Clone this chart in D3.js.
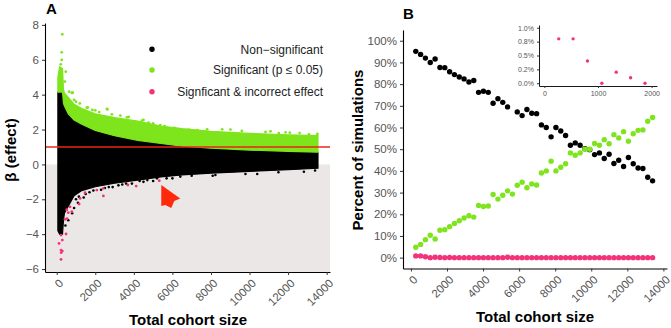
<!DOCTYPE html>
<html>
<head>
<meta charset="utf-8">
<script src="https://cdn.jsdelivr.net/npm/d3@7"></script>
<style>
  body { margin: 0; background: #fff; }
  svg { font-family: "Liberation Sans", Arial, sans-serif; }
</style>
</head>
<body>
<svg id="chart" width="671" height="328"></svg>
<script>
// ---------- Panel A data ----------
// envelope of the dense cloud, per cohort size
var envSize   = [60, 150, 300, 350, 400, 600, 900, 1300, 2000, 3000, 4200, 5400, 6500, 8000, 10000, 12000, 13550];
var blackLow  = [-3.8, -4.0, -4.0, -3.2, -2.8, -2.4, -1.8, -1.5, -1.28, -1.08, -0.9, -0.72, -0.6, -0.5, -0.4, -0.3, -0.22];
var blackHigh = [4.15, 4.15, 4.15, 3.5, 3.35, 2.9, 2.55, 2.3, 1.95, 1.65, 1.38, 1.2, 1.05, 0.93, 0.82, 0.75, 0.7];
var greenHigh = [5.0, 5.6, 5.5, 4.3, 4.1, 3.85, 3.45, 3.2, 2.9, 2.68, 2.48, 2.2, 2.05, 1.9, 1.78, 1.7, 1.65];

// scattered points outside the dense cloud [size, beta]
var greenOut = [[290,7.46],[260,6.43],[260,5.99],[210,5.74],[172,5.32],[470,5.32],[420,4.75],[640,4.17],
  [780,4.11],[830,4.11],[900,3.7],[1000,3.6],[1200,3.5],[1560,3.25],[1610,3.27],[1850,3.12],[2000,3.1],
  [2200,3.0],[2600,3.18],[2630,3.16],[2860,2.87],[3300,2.8],[3640,2.7],[3730,2.72],[4420,2.51],[4500,2.55],
  [4760,2.4],[5000,2.35],[5370,2.25],[5600,2.2],[6100,2.1],[6150,2.07],[6840,1.99],[7300,1.97],[7800,2.01],
  [8580,2.01],[9010,2.0],[9600,1.92],[10830,1.86],[11090,1.9],[11520,1.8],[11870,1.84],[12090,1.82],
  [12600,1.8],[13080,1.72],[13520,1.75]];
var blackOut = [[450,-3.5],[600,-3.2],[800,-2.8],[900,-2.5],[1000,-2.0],[1100,-2.2],[1150,-1.85],[1400,-1.9],
  [1500,-1.7],[1700,-1.6],[1900,-1.5],[2300,-1.45],[2500,-1.35],[2700,-1.3],[2900,-1.3],[3200,-1.2],
  [3400,-1.15],[3600,-1.1],[3900,-1.1],[4300,-0.95],[4500,-1.0],[4700,-0.9],[5000,-0.95],[5200,-0.8],
  [5700,-0.8],[6000,-0.8],[6410,-0.7],[7000,-0.65],[8090,-0.65],[8230,-0.61],[9790,-0.55],[10400,-0.55],
  [11500,-0.45],[12820,-0.42],[13400,-0.35]];
var pinkPts = [[224,-5.45],[224,-4.91],[230,-5.06],[291,-4.97],[120,-4.53],[290,-4.34],[224,-4.05],[483,-3.99],
  [430,-3.15],[535,-3.11],[520,-2.6],[600,-2.77],[780,-2.71],[690,-2.43],[1160,-2.27],[1210,-1.95],
  [1470,-1.62],[2080,-1.47],[2420,-1.37],[2420,-1.81],[3690,-1.18],[4120,-1.24],[5320,-0.93]];

var ticksAx = [0, 2000, 4000, 6000, 8000, 10000, 12000, 14000];
var ticksAy = [-6, -4, -2, 0, 2, 4, 6, 8];
var legendLabels = ["Non\u2212significant", "Significant (p \u2264 0.05)", "Signficant & incorrect effect"];

// ---------- Panel B data ----------
var cohort = [268, 536, 804, 1072, 1340, 1608, 1876, 2144, 2412, 2680, 2948, 3216, 3484, 3752, 4020, 4288,
  4556, 4824, 5092, 5360, 5628, 5896, 6164, 6432, 6700, 6968, 7236, 7504, 7772, 8040, 8308, 8576, 8844,
  9112, 9380, 9648, 9916, 10184, 10452, 10720, 10988, 11256, 11524, 11792, 12060, 12328, 12596, 12864,
  13132, 13400];
var pctNonSig = [95.1, 93.7, 92.0, 90.0, 91.6, 87.7, 87.6, 85.7, 84.4, 83.3, 82.4, 81.0, 81.7, 76.2, 76.7, 76.2,
  71.2, 73.3, 71.6, 69.5, null, 67.2, 65.5, 68.3, 66.6, 66.4, 61.2, 60.0, 55.7, 60.0, 58.4, 56.3, 51.8,
  52.9, 51.8, 50.2, 49.8, 47.5, 48.3, 45.7, 47.7, 43.4, 44.9, 42.0, 46.2, 43.3, 41.3, 41.1, 37.1, 35.4];
var pctSig = [4.8, 6.1, 8.3, 10.3, 8.6, 12.6, 12.9, 14.3, 15.8, 17.0, 18.3, 19.3, 18.7, 24.1, 23.6, 23.8,
  29.1, 27.0, 28.8, 30.8, 29.3, 33.4, 34.8, 32.2, 34.0, 33.5, 39.0, 40.0, 44.5, 40.0, 41.7, 43.3, 48.3,
  47.2, 48.3, 50.0, 50.0, 52.6, 51.8, 54.4, 52.5, 56.7, 55.2, 58.1, 53.7, 57.1, 58.7, 58.9, 62.9, 64.6];
var pctWrong = [0.8, 0.8, 0.4, 0, 0.2, 0.1, 0, 0.1, 0, 0, 0, 0, 0, 0, 0, 0, 0, 0, 0, 0.2, 0, 0, 0, 0, 0,
  0, 0, 0, 0, 0, 0, 0, 0, 0, 0, 0, 0, 0, 0, 0, 0, 0, 0, 0, 0, 0, 0, 0, 0, 0];

var ticksBy = [0, 10, 20, 30, 40, 50, 60, 70, 80, 90, 100];
var ticksInsetX = [0, 1000, 2000];
var ticksInsetY = [0, 0.25, 0.5, 0.75, 1.0];
var ticksInsetLabels = ["0.0%", "0.2%", "0.5%", "0.8%", "1.0%"];

// colours
var cBlack = "#000000", cGreen = "#7ee41c", cPink = "#f2337b";

var svg = d3.select("#chart");

// style helper for ggplot-classic axes
function styleAxis(g, fontSize) {
  g.select(".domain").attr("stroke", "#000").attr("stroke-width", 1.1);
  g.selectAll(".tick line").attr("stroke", "#333");
  g.selectAll(".tick text").attr("fill", "#555").style("font-size", fontSize + "px");
}
function rotateX(g) {
  g.selectAll(".tick text")
    .attr("x", 0).attr("y", 0).attr("dy", "0.35em")
    .attr("transform", "translate(4,9) rotate(-45)")
    .style("text-anchor", "end");
}

// ================= PANEL A =================
var xA = d3.scaleLinear().domain([-608, 14174]).range([45, 330]);
var yA = d3.scaleLinear().domain([-6.17, 8.11]).range([272, 23]);

// shaded region below zero
svg.append("rect")
  .attr("x", xA(-608)).attr("y", yA(0))
  .attr("width", xA(14174) - xA(-608)).attr("height", yA(-6.17) - yA(0))
  .attr("fill", "#ebe7e7");

var env = envSize.map(function(s, i) {
  return {s: s, lo: blackLow[i], hi: blackHigh[i], top: greenHigh[i]};
});

svg.append("path").datum(env)
  .attr("fill", cBlack).attr("stroke", cBlack).attr("stroke-width", 1.2)
  .attr("d", d3.area().x(function(d){ return xA(d.s); })
    .y0(function(d){ return yA(d.lo); }).y1(function(d){ return yA(d.hi); }));

svg.append("path").datum(env)
  .attr("fill", cGreen).attr("stroke", cGreen).attr("stroke-width", 1.2)
  .attr("d", d3.area().x(function(d){ return xA(d.s); })
    .y0(function(d){ return yA(d.hi); }).y1(function(d){ return yA(d.top); }));

svg.append("g").selectAll("circle").data(blackOut).enter().append("circle")
  .attr("cx", function(d){ return xA(d[0]); }).attr("cy", function(d){ return yA(d[1]); })
  .attr("r", 1.3).attr("fill", cBlack);
svg.append("g").selectAll("circle").data(greenOut).enter().append("circle")
  .attr("cx", function(d){ return xA(d[0]); }).attr("cy", function(d){ return yA(d[1]); })
  .attr("r", 1.4).attr("fill", cGreen);
svg.append("g").selectAll("circle").data(pinkPts).enter().append("circle")
  .attr("cx", function(d){ return xA(d[0]); }).attr("cy", function(d){ return yA(d[1]); })
  .attr("r", 1.4).attr("fill", cPink);

// true effect line
svg.append("line")
  .attr("x1", xA(-608)).attr("x2", xA(14174)).attr("y1", yA(1)).attr("y2", yA(1))
  .attr("stroke", "#e8261a").attr("stroke-width", 1.3);

// red arrow pointing at the pink point
var arrowTip = [5422, -1.18];
var arrowShape = [[0,0],[19,13.5],[13,16],[10,23],[4,20],[0,21]];
svg.append("path")
  .attr("d", "M" + arrowShape.map(function(p){
    return (xA(arrowTip[0]) + p[0]) + "," + (yA(arrowTip[1]) + p[1]); }).join("L") + "Z")
  .attr("fill", "#ff2a0c");

var axAy = svg.append("g").attr("transform", "translate(45,0)")
  .call(d3.axisLeft(yA).tickValues(ticksAy).tickSize(3).tickSizeOuter(0).tickFormat(d3.format("d")));
styleAxis(axAy, 11.5);
axAy.selectAll(".tick text").text(function(d){ return d < 0 ? "\u2212" + Math.abs(d) : d; });

var axAx = svg.append("g").attr("transform", "translate(0,272)")
  .call(d3.axisBottom(xA).tickValues(ticksAx).tickSize(3).tickSizeOuter(0).tickFormat(d3.format("d")));
styleAxis(axAx, 11.5);
rotateX(axAx);

// legend
var legColors = [cBlack, cGreen, cPink];
var legY = [49.3, 70, 91.7];
legendLabels.forEach(function(t, i) {
  svg.append("circle").attr("cx", 152).attr("cy", legY[i]).attr("r", 2.7).attr("fill", legColors[i]);
  svg.append("text").attr("x", 323).attr("y", legY[i]).attr("dy", "0.35em")
    .style("text-anchor", "end").style("font-size", "12px").attr("fill", "#222").text(t);
});

svg.append("text").attr("x", 188).attr("y", 325).style("text-anchor", "middle")
  .style("font-size", "15px").style("font-weight", "bold").text("Total cohort size");
svg.append("text").attr("transform", "translate(16,150) rotate(-90)").style("text-anchor", "middle")
  .style("font-size", "15px").style("font-weight", "bold").text("\u03b2 (effect)");
svg.append("text").attr("x", 46).attr("y", 14).style("font-size", "15px").style("font-weight", "bold").text("A");

// ================= PANEL B =================
var xB = d3.scaleLinear().domain([-440, 14200]).range([403, 667]);
var yB = d3.scaleLinear().domain([-5, 105]).range([268.5, 29.9]);

function pointsB(values, color) {
  var pts = cohort.map(function(c, i){ return [c, values[i]]; })
    .filter(function(d){ return d[1] !== null; });
  svg.append("g").selectAll("circle").data(pts).enter().append("circle")
    .attr("cx", function(d){ return xB(d[0]); }).attr("cy", function(d){ return yB(d[1]); })
    .attr("r", 2.7).attr("fill", color);
}
pointsB(pctNonSig, cBlack);
pointsB(pctSig, cGreen);
pointsB(pctWrong, cPink);

var axBy = svg.append("g").attr("transform", "translate(403,0)")
  .call(d3.axisLeft(yB).tickValues(ticksBy).tickSize(3).tickSizeOuter(0)
    .tickFormat(function(d){ return d + "%"; }));
styleAxis(axBy, 11.5);

var axBx = svg.append("g").attr("transform", "translate(0,268.5)")
  .call(d3.axisBottom(xB).tickValues(ticksAx).tickSize(3).tickSizeOuter(0).tickFormat(d3.format("d")));
styleAxis(axBx, 11.5);
rotateX(axBx);

svg.append("text").attr("x", 535).attr("y", 322).style("text-anchor", "middle")
  .style("font-size", "15px").style("font-weight", "bold").text("Total cohort size");
svg.append("text").attr("transform", "translate(363,150) rotate(-90)").style("text-anchor", "middle")
  .style("font-size", "15px").style("font-weight", "bold").text("Percent of simulations");
svg.append("text").attr("x", 403).attr("y", 19).style("font-size", "15px").style("font-weight", "bold").text("B");

// ---------- inset: first cohort sizes, incorrect effects ----------
var xI = d3.scaleLinear().domain([-100, 2100]).range([539, 657]);
var yI = d3.scaleLinear().domain([-0.05, 1.05]).range([86, 25]);
var insetPts = cohort.map(function(c, i){ return [c, pctWrong[i]]; })
  .filter(function(d){ return d[0] <= 2000; });

svg.append("g").selectAll("circle").data(insetPts).enter().append("circle")
  .attr("cx", function(d){ return xI(d[0]); }).attr("cy", function(d){ return yI(d[1]); })
  .attr("r", 1.7).attr("fill", cPink);

var axIy = svg.append("g").attr("transform", "translate(539,0)")
  .call(d3.axisLeft(yI).tickValues(ticksInsetY).tickSize(2).tickSizeOuter(0)
    .tickFormat(function(d, i){ return ticksInsetLabels[i]; }));
styleAxis(axIy, 7);
axIy.select(".domain").attr("stroke-width", 0.9);

var axIx = svg.append("g").attr("transform", "translate(0,86)")
  .call(d3.axisBottom(xI).tickValues(ticksInsetX).tickSize(2).tickSizeOuter(0).tickFormat(d3.format("d")));
styleAxis(axIx, 7);
axIx.select(".domain").attr("stroke-width", 0.9);
</script>
</body>
</html>
